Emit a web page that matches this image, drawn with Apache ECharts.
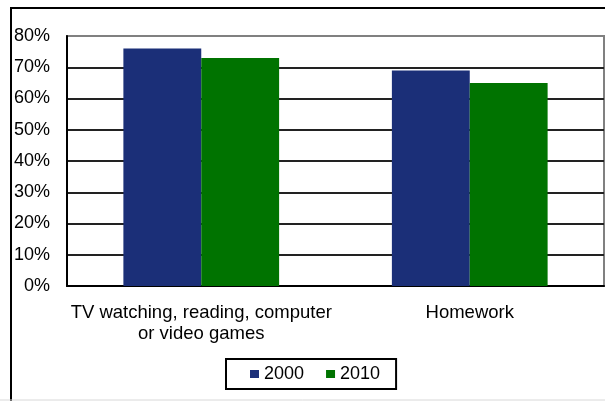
<!DOCTYPE html>
<html>
<head>
<meta charset="utf-8">
<script src="https://cdn.jsdelivr.net/npm/echarts@6/dist/echarts.min.js"></script>
<style>html,body{margin:0;padding:0;background:#fff;}#c{width:605px;height:401px;}</style>
</head>
<body>
<div id="c"></div>
<script>
const categories = ["TV watching, reading, computer\nor video games", "Homework"];
const seriesNames = ["2000", "2010"];
const data2000 = [76, 69];
const data2010 = [73, 65];
const yTicks = { min: 0, max: 80, interval: 10 };

const chart = echarts.init(document.getElementById('c'), null, { renderer: 'canvas' });
const font = 'Liberation Sans, Arial, sans-serif';
chart.setOption({
  animation: false,
  backgroundColor: '#fff',
  textStyle: { fontFamily: font },
  graphic: [
    { type: 'rect', shape: { x: 11, y: 8, width: 640, height: 440 }, style: { fill: 'none', stroke: '#000', lineWidth: 2 }, z: 100 },
    { type: 'line', shape: { x1: 0, y1: 400, x2: 605, y2: 400 }, style: { stroke: '#d8d8d8', lineWidth: 1 }, z: 100 }
  ],
  grid: { left: 67, right: 1, top: 36, bottom: 115, show: true, borderColor: '#808080', borderWidth: 2, backgroundColor: 'transparent' },
  legend: {
    data: seriesNames,
    left: 226, top: 359,
    orient: 'horizontal',
    itemWidth: 9, itemHeight: 8, itemGap: 22,
    padding: [6, 16, 6, 24],
    borderColor: '#000', borderWidth: 2,
    icon: 'rect',
    textStyle: { fontFamily: font, fontSize: 18, color: '#000' }
  },
  xAxis: {
    type: 'category',
    data: categories,
    axisLine: { lineStyle: { color: '#000', width: 2 } },
    axisTick: { show: false },
    axisLabel: { fontFamily: font, fontSize: 18.5, color: '#000', margin: 16, lineHeight: 21, interval: 0 }
  },
  yAxis: {
    type: 'value',
    min: yTicks.min, max: yTicks.max, interval: yTicks.interval,
    axisLine: { show: true, lineStyle: { color: '#000', width: 2 } },
    axisTick: { show: false },
    axisLabel: { fontFamily: font, fontSize: 18, color: '#000', margin: 17, formatter: '{value}%' },
    splitLine: { show: true, showMinLine: false, showMaxLine: false, lineStyle: { color: '#222', width: 2 } }
  },
  series: [
    { name: seriesNames[0], type: 'bar', data: data2000, barGap: '0%', barCategoryGap: '42%', itemStyle: { color: '#1B2F78' } },
    { name: seriesNames[1], type: 'bar', data: data2010, barGap: '0%', barCategoryGap: '42%', itemStyle: { color: '#007300' } }
  ]
});
</script>
</body>
</html>
